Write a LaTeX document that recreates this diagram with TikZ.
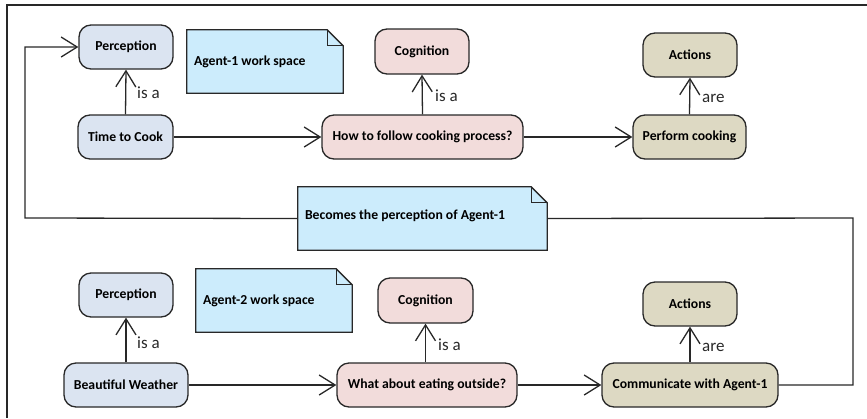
\documentclass[tikz,border=0pt]{standalone}
\usepackage{fontspec}
\setmainfont{Carlito}
\usetikzlibrary{arrows.meta,backgrounds}

\definecolor{percfill}{RGB}{219,228,241}
\definecolor{cogfill}{RGB}{242,220,219}
\definecolor{actfill}{RGB}{221,217,195}
\definecolor{notefill}{RGB}{204,236,252}
\definecolor{inkline}{RGB}{40,40,40}

\tikzset{
  box/.style={draw=inkline, line width=1.3pt, rounded corners=12pt,
    minimum height=44pt, inner sep=2pt, font=\fontsize{13.7}{16}\selectfont\bfseries},
  percbox/.style={box, fill=percfill},
  cogbox/.style={box, fill=cogfill},
  actbox/.style={box, fill=actfill},
  notebox/.style={minimum height=63pt, inner sep=0pt, minimum width=#1},
  notetext/.style={anchor=west, inner sep=0pt, font=\fontsize{13.7}{16}\selectfont\bfseries},
  link/.style={draw=inkline, line width=1.3pt},
  arr/.style={link, -{Straight Barb[length=16pt,width=20pt,line width=1.3pt]}},
  lbl/.style={anchor=west, inner sep=0pt, font=\fontsize{17}{19}\selectfont, text=inkline},
  frame/.style={draw=inkline, line width=2pt},
}

% note sheet with a folded top-right corner, drawn behind its text
\newcommand{\notefold}[1]{%
  \begin{scope}[on background layer]
    \filldraw[fill=notefill, draw=inkline, line width=1.3pt, line join=miter]
      (#1.south west) -- (#1.north west) -- ([xshift=-16pt]#1.north east)
      -- ([yshift=-16pt]#1.north east) -- (#1.south east) -- cycle;
    \draw[inkline, line width=1.1pt]
      ([xshift=-16pt]#1.north east) -- ([xshift=-16pt,yshift=-16pt]#1.north east)
      -- ([yshift=-16pt]#1.north east);
  \end{scope}}

\begin{document}
\begin{tikzpicture}[x=1pt, y=-1pt]
\useasboundingbox (0,0) rectangle (867,418);

% outer frame (top and left edges)
\coordinate (frTL) at (7,5);
\coordinate (frTR) at (867,5);
\coordinate (frBL) at (7,418);
\draw[frame] (frTR) -- (frTL) -- (frBL);

% Agent-1 row
\node[percbox, minimum width=94pt] (p1) at (126,47) {Perception};
\node[percbox, minimum width=95pt] (t1) at (125.5,137) {Time to Cook};
\node[cogbox, minimum width=94pt, minimum height=45pt] (c1) at (422,51.5) {Cognition};
\node[cogbox, minimum width=201pt] (h1) at (422.5,137) {How to follow cooking process?};
\node[actbox, minimum width=94pt] (a1) at (690,55) {Actions};
\node[actbox, minimum width=113pt] (f1) at (689.5,137) {Perform cooking};
\node[notebox=156pt] (n1) at (265,61.5) {};
\notefold{n1}
\node[notetext] (n1t) at ([xshift=7pt]n1.west) {Agent-1 work space};

% hand-over note
\node[notebox=249pt] (nb) at (422.5,218.5) {};
\notefold{nb}
\node[notetext] (nbt) at ([xshift=7pt,yshift=3pt]nb.west) {Becomes the perception of Agent-1};

% Agent-2 row
\node[percbox, minimum width=94pt] (p2) at (126,295) {Perception};
\node[percbox, minimum width=124pt] (b2) at (126,385) {Beautiful Weather};
\node[cogbox, minimum width=95pt, minimum height=45pt] (c2) at (425.5,300.5) {Cognition};
\node[cogbox, minimum width=180pt] (w2) at (427,385) {What about eating outside?};
\node[actbox, minimum width=94pt] (a2) at (690,304) {Actions};
\node[actbox, minimum width=176pt] (m2) at (690,385) {Communicate with Agent-1};
\node[notebox=156pt] (n2) at (274,300.5) {};
\notefold{n2}
\node[notetext] (n2t) at ([xshift=7pt]n2.west) {Agent-2 work space};

% connectors, Agent-1
\draw[arr] (t1.north) -- (p1.south);
\draw[arr] (h1.north) -- (c1.south);
\draw[arr] (f1.north) -- (a1.south);
\draw[arr] (t1.east) -- (h1.west);
\draw[arr] (h1.east) -- (f1.west);

% connectors, Agent-2
\draw[arr] (b2.north) -- (p2.south);
\draw[arr] (w2.north -| c2) -- (c2.south);
\draw[arr] (m2.north) -- (a2.south);
\draw[arr] (b2.east) -- (w2.west);
\draw[arr] (w2.east) -- (m2.west);

% feedback loop from Agent-2 to Agent-1
\coordinate (lpR) at (853,218);
\coordinate (lpL) at (25,218);
\draw[link] (m2.east) -| (lpR) -- (nb.east);
\draw[arr] (nb.west) -- (lpL) |- (p1.west);

% relation labels
\node[lbl] (l1) at (137,93) {is a};
\node[lbl] (l2) at (435,96) {is a};
\node[lbl] (l3) at (702,98) {are};
\node[lbl] (l4) at (137,343) {is a};
\node[lbl] (l5) at (438,345) {is a};
\node[lbl] (l6) at (702,347) {are};
\end{tikzpicture}
\end{document}
